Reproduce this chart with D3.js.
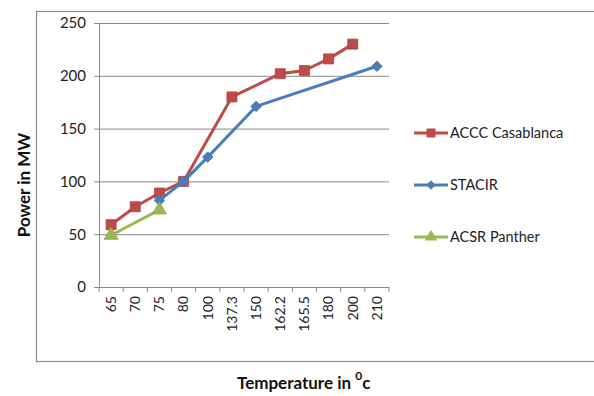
<!DOCTYPE html>
<html>
<head>
<meta charset="utf-8">
<script src="https://cdn.jsdelivr.net/npm/d3@7"></script>
<style>
  body { margin: 0; background: #fff; }
  text { font-family: Lato, "Open Sans", sans-serif; }
</style>
</head>
<body>
<div id="chart"></div>
<script>
// temperature categories (x axis)
var temps = ["65", "70", "75", "80", "100", "137.3", "150", "162.2", "165.5", "180", "200", "210"];
var yTicks = [0, 50, 100, 150, 200, 250];

// power in MW, null where the series has no point
var accc   = [59, 76, 89, 100, null, 180, null, 202, 205, 216, 230, null];
var stacir = [null, null, 82, 100, 123, null, 171, null, null, null, null, 209];
var acsr   = [49, null, 73, null, null, null, null, null, null, null, null, null];

var seriesNames = ["ACCC Casablanca", "STACIR", "ACSR Panther"];
var seriesVals = [accc, stacir, acsr];
var colors = ["#BE4B48", "#4A7EBB", "#98B954"];
var shapes = [d3.symbolSquare, d3.symbolSquare, d3.symbolTriangle];
var rotations = [0, 45, 0];
var sizes = [100, 55, 85];

var W = 594, H = 396;
var margin = {top: 23, right: 205, bottom: 109, left: 99};
var width = W - margin.left - margin.right,
    height = H - margin.top - margin.bottom;

var svg = d3.select("#chart").append("svg")
    .attr("width", W)
    .attr("height", H);

// outer chart border
svg.append("rect")
    .attr("x", 36.5).attr("y", 11.5)
    .attr("width", 600).attr("height", 350)
    .attr("fill", "none")
    .attr("stroke", "#8c8c8c")
    .attr("stroke-width", 1.2);

var g = svg.append("g")
    .attr("transform", "translate(" + margin.left + "," + margin.top + ")");

var x = d3.scaleBand().domain(temps).range([0, width]);
var y = d3.scaleLinear().domain([0, 250]).range([height, 0]);

// gridlines
g.selectAll("line.grid")
    .data(yTicks.slice(1))
    .enter().append("line")
    .attr("class", "grid")
    .attr("x1", 0).attr("x2", width)
    .attr("y1", function(d) { return y(d) + 0.5; })
    .attr("y2", function(d) { return y(d) + 0.5; })
    .attr("stroke", "#8a8a8a")
    .attr("stroke-width", 1);

// y axis
var yAxis = g.append("g")
    .call(d3.axisLeft(y).tickValues(yTicks).tickSize(5).tickPadding(8));
yAxis.select(".domain").attr("stroke", "#8a8a8a");
yAxis.selectAll(".tick line").attr("stroke", "#8a8a8a");
yAxis.selectAll("text")
    .attr("font-size", 15)
    .attr("fill", "#222");

// x axis with ticks at band edges
var xAxis = g.append("g")
    .attr("transform", "translate(0," + height + ")")
    .call(d3.axisBottom(x).tickSize(0).tickPadding(8));
xAxis.select(".domain").attr("stroke", "#8a8a8a");
xAxis.selectAll("text")
    .attr("font-size", 14)
    .attr("fill", "#222")
    .attr("transform", "rotate(-90)")
    .attr("text-anchor", "end")
    .attr("x", -9)
    .attr("y", 0)
    .attr("dy", "0.35em");

var edges = temps.map(function(d) { return x(d); }).concat([width]);
g.selectAll("line.xtick")
    .data(edges)
    .enter().append("line")
    .attr("class", "xtick")
    .attr("x1", function(d) { return d; })
    .attr("x2", function(d) { return d; })
    .attr("y1", height)
    .attr("y2", height + 5)
    .attr("stroke", "#8a8a8a");

// series lines and markers
var line = d3.line()
    .x(function(d) { return x(d.t) + x.bandwidth() / 2; })
    .y(function(d) { return y(d.v); });

seriesVals.forEach(function(vals, i) {
    var pts = [];
    vals.forEach(function(v, j) {
        if (v !== null) pts.push({t: temps[j], v: v});
    });

    g.append("path")
        .datum(pts)
        .attr("fill", "none")
        .attr("stroke", colors[i])
        .attr("stroke-width", 3)
        .attr("stroke-linejoin", "round")
        .attr("d", line);

    g.selectAll("path.m" + i)
        .data(pts)
        .enter().append("path")
        .attr("class", "m" + i)
        .attr("d", d3.symbol().type(shapes[i]).size(sizes[i]))
        .attr("transform", function(d) {
            return "translate(" + (x(d.t) + x.bandwidth() / 2) + "," + y(d.v) + ") rotate(" + rotations[i] + ")";
        })
        .attr("fill", colors[i])
        .attr("stroke", d3.color(colors[i]).darker(0.3))
        .attr("stroke-width", 0.8);
});

// legend
var legend = svg.selectAll("g.legend")
    .data(seriesNames)
    .enter().append("g")
    .attr("class", "legend")
    .attr("transform", function(d, i) {
        return "translate(414," + [133, 185, 237][i] + ")";
    });

legend.append("line")
    .attr("x1", 0).attr("x2", 34)
    .attr("stroke", function(d, i) { return colors[i]; })
    .attr("stroke-width", 3);

legend.append("path")
    .attr("d", function(d, i) { return d3.symbol().type(shapes[i]).size(sizes[i] * 0.8)(); })
    .attr("transform", function(d, i) { return "translate(17,0) rotate(" + rotations[i] + ")"; })
    .attr("fill", function(d, i) { return colors[i]; });

legend.append("text")
    .attr("x", 36)
    .attr("dy", "0.35em")
    .attr("font-size", 14.5)
    .attr("fill", "#222")
    .text(function(d) { return d; });

// axis titles
svg.append("text")
    .attr("transform", "translate(30,185) rotate(-90)")
    .attr("text-anchor", "middle")
    .attr("font-size", 17)
    .attr("font-weight", "bold")
    .attr("fill", "#111")
    .text("Power in MW");

var xt = svg.append("text")
    .attr("x", 237)
    .attr("y", 389)
    .attr("font-size", 17)
    .attr("font-weight", "bold")
    .attr("fill", "#111");
xt.append("tspan").text("Temperature in ");
xt.append("tspan")
    .attr("dy", -9)
    .attr("font-size", 12)
    .text("0");
xt.append("tspan")
    .attr("dy", 9)
    .text("c");
</script>
</body>
</html>
